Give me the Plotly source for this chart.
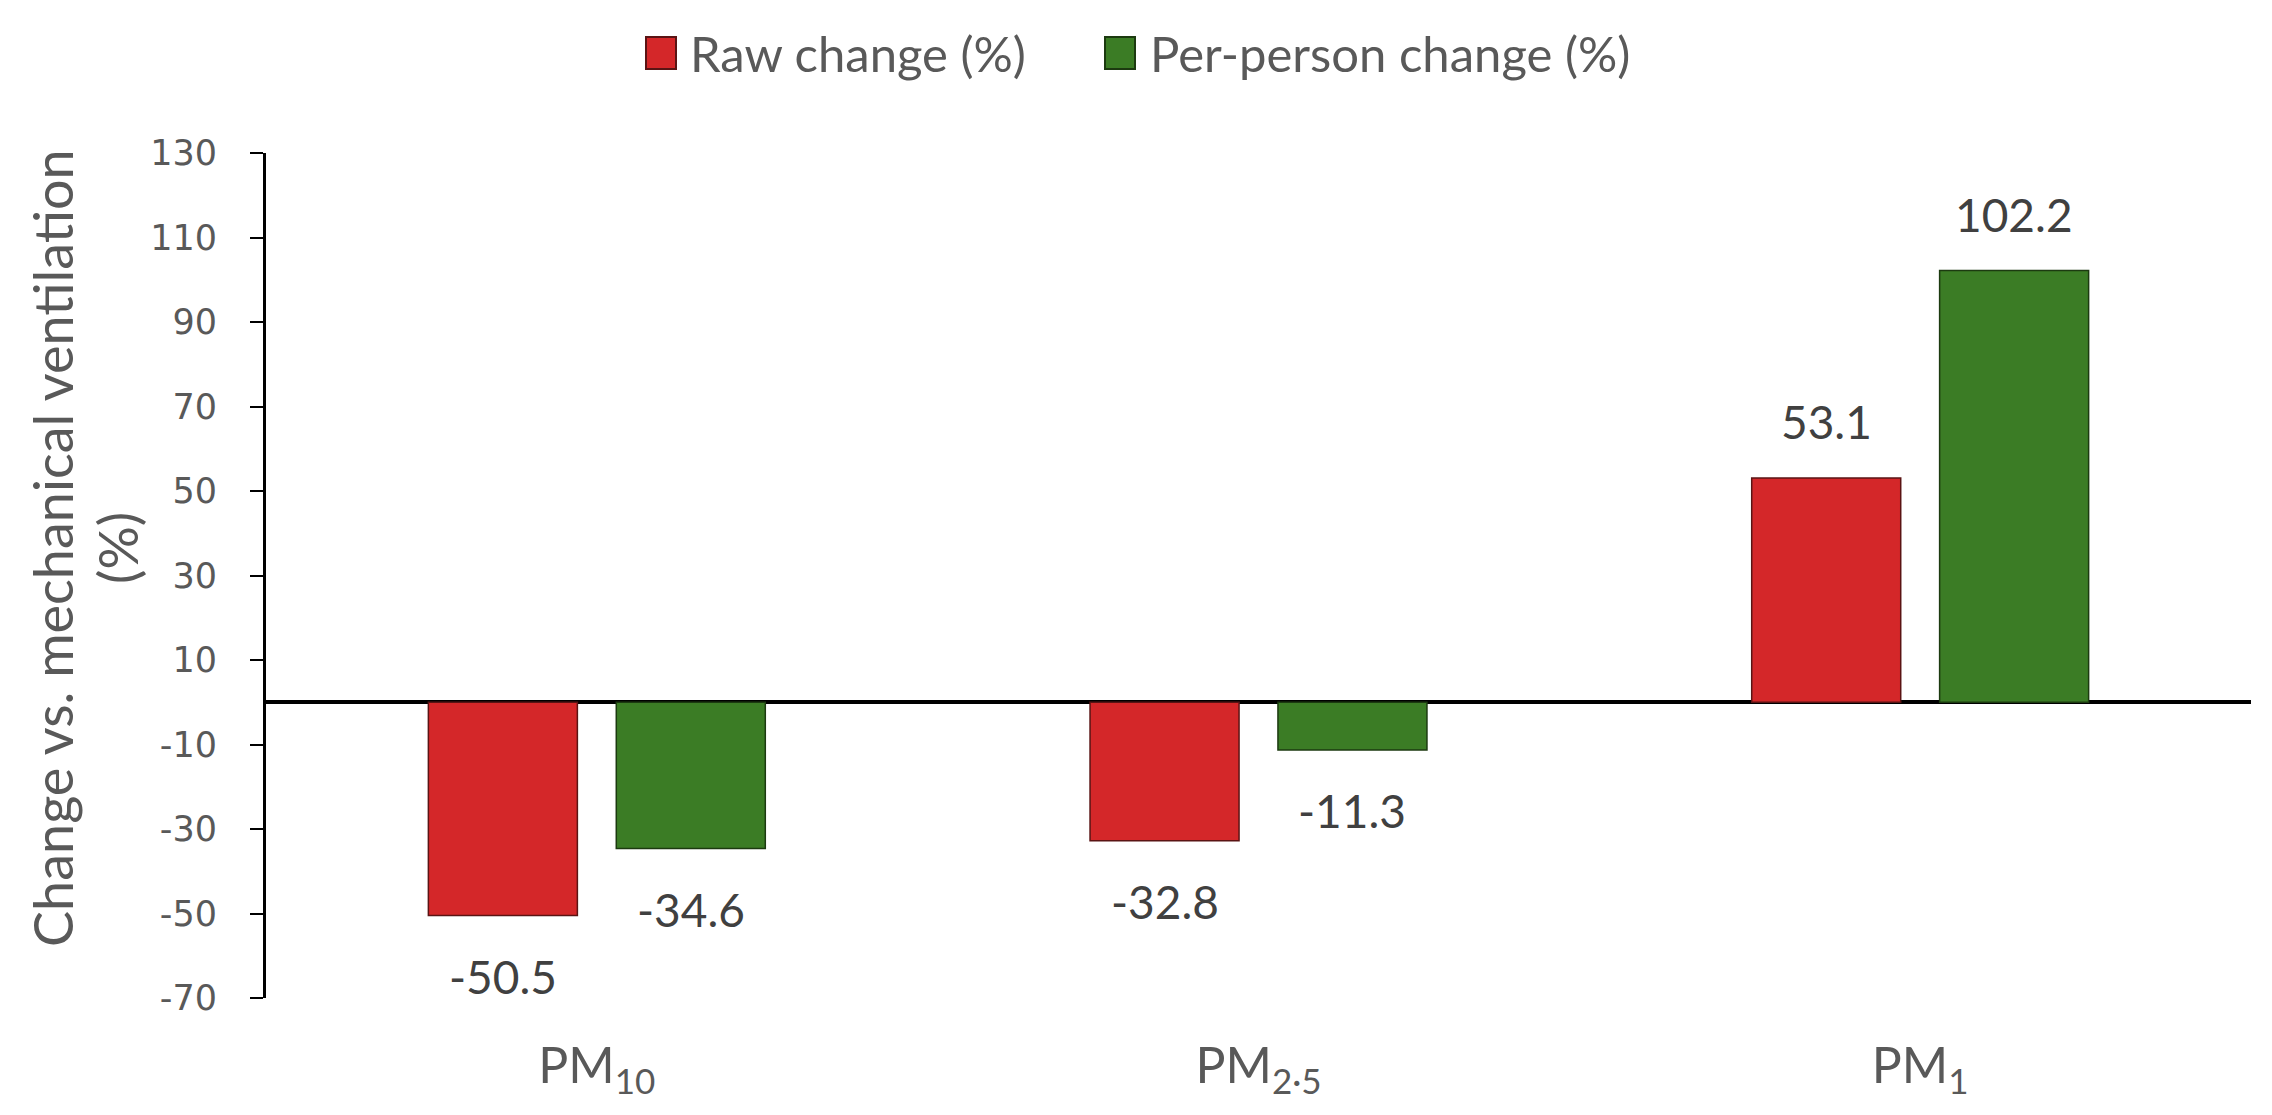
import plotly.graph_objects as go

categories = ["PM<sub>10</sub>", "PM<sub>2·5</sub>", "PM<sub>1</sub>"]
raw_change = [-50.5, -32.8, 53.1]
per_person_change = [-34.6, -11.3, 102.2]
series_names = ["Raw change (%)", "Per-person change (%)"]
y_ticks = [-70, -50, -30, -10, 10, 30, 50, 70, 90, 110, 130]
y_title_lines = ["Change vs. mechanical ventilation", "(%)"]

RED = "#D42729"
GREEN = "#3B7C25"
TXT = "#595959"
BARGAP = 0.432
GROUPGAP = 0.207

W, H = 2272, 1115
L, R, T, B = 258, 29, 145, 125
PW, PH = W - L - R, H - T - B


def px_x(px):
    return (px - L) / PW


def px_y(py):
    return (H - B - py) / PH


fig = go.Figure()
fig.add_trace(go.Bar(x=categories, y=raw_change, name=series_names[0],
                     marker=dict(color=RED, line=dict(color="#5A1414", width=1.5))))
fig.add_trace(go.Bar(x=categories, y=per_person_change, name=series_names[1],
                     marker=dict(color=GREEN, line=dict(color="#1C3A10", width=1.5))))

slot = (1 - BARGAP) / 2
for si, vals in enumerate([raw_change, per_person_change]):
    off = -slot / 2 if si == 0 else slot / 2
    for i, v in enumerate(vals):
        fig.add_annotation(x=i + off, y=v, xref="x", yref="y", text=f"{v:.1f}",
                           showarrow=False, yanchor="middle",
                           yshift=56 if v > 0 else -61,
                           font=dict(family="Lato", size=46, color="#404040"))

# y-axis title (two rotated lines)
for line, cx in zip(y_title_lines, [44, 109]):
    fig.add_annotation(xref="paper", yref="paper", x=px_x(cx), y=px_y(540),
                       text=line, textangle=-90,
                       showarrow=False, xanchor="center", yanchor="middle",
                       font=dict(family="Lato", size=54, color=TXT))

# legend (drawn manually for larger swatches)
legend_items = [(series_names[0], RED, "#5A1414", 638, 680),
                (series_names[1], GREEN, "#1C3A10", 1097, 1140)]
for name, col, edge, sx, tx in legend_items:
    fig.add_shape(type="rect", xref="paper", yref="paper",
                  x0=px_x(sx), x1=px_x(sx + 30), y0=px_y(61), y1=px_y(29),
                  fillcolor=col, line=dict(color=edge, width=2))
    fig.add_annotation(xref="paper", yref="paper", x=px_x(tx), y=px_y(45),
                       text=name, showarrow=False, xanchor="left", yanchor="middle",
                       font=dict(family="Lato", size=49, color=TXT))

fig.update_layout(
    width=W, height=H,
    margin=dict(l=L, r=R, t=T, b=B),
    paper_bgcolor="white", plot_bgcolor="white",
    barmode="group", bargap=BARGAP, bargroupgap=GROUPGAP,
    showlegend=False,
    xaxis=dict(showline=False, showgrid=False, ticks="", ticklabelstandoff=34,
               tickfont=dict(family="Lato", size=50, color=TXT)),
    yaxis=dict(range=[-70, 130], tickvals=y_ticks, ticktext=[str(v) for v in y_ticks],
               showgrid=False,
               showline=True, linecolor="black", linewidth=3,
               ticks="outside", ticklen=13, tickwidth=2, tickcolor="black",
               ticklabelstandoff=26,
               zeroline=True, zerolinecolor="black", zerolinewidth=4,
               tickfont=dict(family="DejaVu Sans", size=35, color=TXT)),
)

fig.write_html("out.html")
